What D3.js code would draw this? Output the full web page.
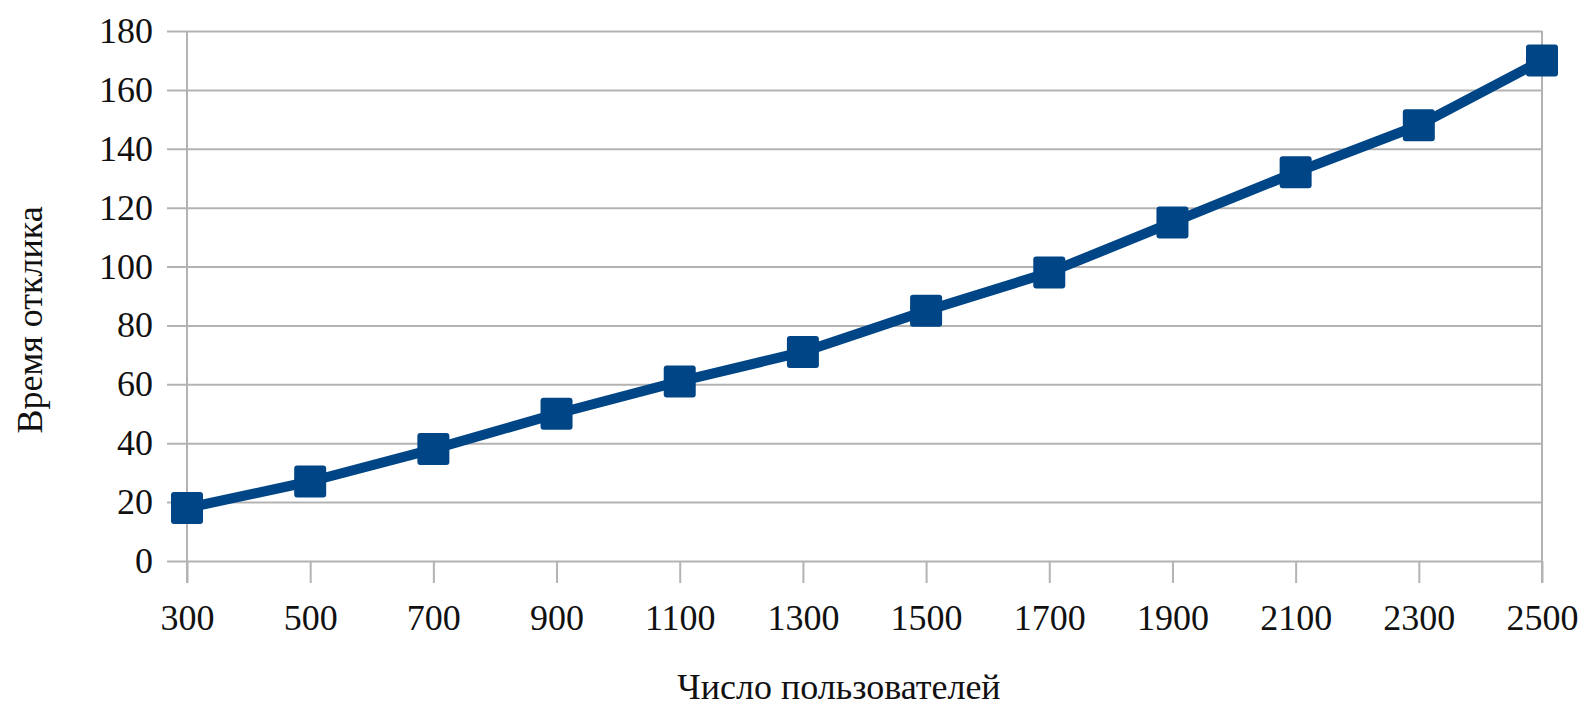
<!DOCTYPE html>
<html>
<head>
<meta charset="utf-8">
<script src="https://cdn.jsdelivr.net/npm/d3@7/dist/d3.min.js"></script>
<style>
  html, body { margin: 0; padding: 0; background: #ffffff; }
  svg { display: block; }
  text { font-family: "Liberation Serif", "DejaVu Serif", serif; fill: #111; }
</style>
</head>
<body>
<svg id="chart" width="1585" height="709"></svg>
<script>
// Data
const users = [300, 500, 700, 900, 1100, 1300, 1500, 1700, 1900, 2100, 2300, 2500];
const responseTime = [18, 27, 38, 50, 61, 71, 85, 98, 115, 132, 148, 170];
const yTicks = [0, 20, 40, 60, 80, 100, 120, 140, 160, 180];
const xTitle = "Число пользователей";
const yTitle = "Время отклика";

const svg = d3.select("#chart");
const plotLeft = 187, plotRight = 1542, plotTop = 31, plotBottom = 561;
const gridColor = "#b3b3b3";
const seriesColor = "#004586";
const fontSize = 36;

const x = d3.scaleLinear().domain([300, 2500]).range([plotLeft, plotRight]);
const y = d3.scaleLinear().domain([0, 180]).range([plotBottom, plotTop]);

// Y axis with gridlines (drawn from the right edge so ticks extend past left axis)
const yAxis = d3.axisLeft(y).tickValues(yTicks).tickFormat(d3.format("d"))
  .tickSize(plotRight - plotLeft + 20).tickPadding(14);
const gy = svg.append("g").attr("transform", `translate(${plotRight},0)`).call(yAxis);
gy.select(".domain").remove();
gy.selectAll(".tick line").attr("stroke", gridColor).attr("stroke-width", 2);
gy.selectAll(".tick text").style("font-size", fontSize + "px").attr("fill", "#111")
  .style("font-family", '"Liberation Serif", serif');

// X axis ticks
const xAxis = d3.axisBottom(x).tickValues(users).tickFormat(d3.format("d"))
  .tickSize(22).tickPadding(21);
const gx = svg.append("g").attr("transform", `translate(0,${plotBottom})`).call(xAxis);
gx.select(".domain").remove();
gx.selectAll(".tick line").attr("stroke", gridColor).attr("stroke-width", 2);
gx.selectAll(".tick text").style("font-size", fontSize + "px").attr("fill", "#111")
  .style("font-family", '"Liberation Serif", serif');

// Left and right vertical axis lines
svg.append("line").attr("x1", x(300)).attr("x2", x(300)).attr("y1", y(180)).attr("y2", plotBottom + 22)
  .attr("stroke", gridColor).attr("stroke-width", 2);
svg.append("line").attr("x1", x(2500)).attr("x2", x(2500)).attr("y1", y(180)).attr("y2", plotBottom + 22)
  .attr("stroke", gridColor).attr("stroke-width", 2);

// Series line
const pts = users.map((u, i) => [u, responseTime[i]]);
const line = d3.line().x(d => x(d[0])).y(d => y(d[1]));
svg.append("path").datum(pts).attr("d", line)
  .attr("fill", "none").attr("stroke", seriesColor).attr("stroke-width", 10)
  .attr("stroke-linejoin", "round");

// Markers
const ms = 32;
svg.selectAll("rect.marker").data(pts).enter().append("rect")
  .attr("class", "marker")
  .attr("x", d => x(d[0]) - ms / 2).attr("y", d => y(d[1]) - ms / 2)
  .attr("width", ms).attr("height", ms).attr("rx", 3)
  .attr("fill", seriesColor);

// Axis titles
svg.append("text").attr("x", 839).attr("y", 699).attr("text-anchor", "middle")
  .style("font-size", fontSize + "px").text(xTitle);
svg.append("text").attr("transform", "translate(42,320) rotate(-90)").attr("text-anchor", "middle")
  .style("font-size", fontSize + "px").text(yTitle);
</script>
</body>
</html>
